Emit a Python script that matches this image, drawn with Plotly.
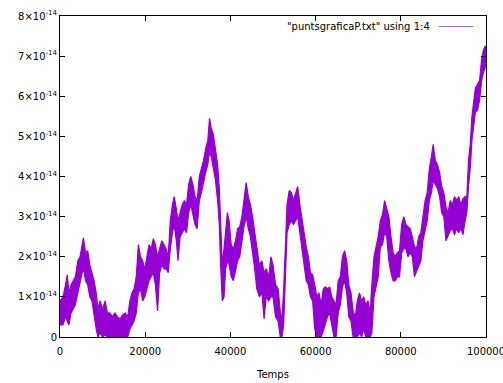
import plotly.graph_objects as go

# Envelope of the plotted series (units of 1e-14)
temps = [0, 700, 1300, 1700, 2100, 2600, 3100, 3600, 4200, 4700, 5200, 5500, 6000, 6500, 7000, 7500,
         8000, 8500, 8900, 9400, 10000, 10600, 11100, 11700, 12300, 12900, 13500, 14100, 14700, 15300,
         15900, 16400, 16900, 17400, 17900, 18400, 18900, 19400, 19900, 20400, 20900, 21400, 21900,
         22400, 22900, 23400, 23900, 24400, 24900, 25400, 25900, 26400, 26800, 27300, 27700, 28200,
         28700, 29200, 29700, 30200, 30700, 31200, 31700, 32200, 32700, 33200, 33700, 34200, 34700,
         35100, 35500, 36000, 36500, 37000, 37400, 37700, 38100, 38500, 38900, 39300, 39700, 40200,
         40700, 41200, 41700, 42200, 42700, 43200, 43700, 44200, 44700, 45200, 45700, 46200, 46800,
         47400, 47900, 48400, 49000, 49500, 50000, 50600, 51200, 51700, 52100, 52500, 52900, 53300,
         53800, 54300, 54800, 55300, 55800, 56300, 56800, 57300, 57800, 58300, 58800, 59300, 59800,
         60300, 60800, 61300, 61800, 62300, 62800, 63300, 63800, 64300, 64800, 65300, 65800, 66300,
         66800, 67300, 67800, 68300, 68800, 69300, 69800, 70300, 70800, 71300, 71800, 72300, 72800,
         73200, 73700, 74200, 74700, 75200, 75700, 76200, 76700, 77200, 77700, 78200, 78700, 79200,
         79700, 80200, 80700, 81200, 81700, 82200, 82700, 83200, 83700, 84200, 84700, 85200, 85700,
         86200, 86700, 87200, 87600, 88100, 88600, 89100, 89600, 90100, 90600, 91100, 91600, 92100,
         92600, 93100, 93600, 94100, 94600, 95100, 95500, 95900, 96300, 96700, 97100, 97500, 98000,
         98500, 99000, 99400, 99800, 100000]

p_low = [0.3, 0.3, 0.5, 0.4, 0.3, 0.6, 0.7, 0.8, 1.1, 1.3, 1.6, 1.7, 1.4, 1.3, 1.0, 0.9,
         0.5, 0.2, 0.0, 0.1, 0.0, 0.05, 0.0, 0.0, 0.0, 0.0, 0.0, 0.0, 0.0, 0.0,
         0.0, 0.2, 0.3, 0.4, 0.6, 1.1, 1.2, 0.9, 1.0, 1.2, 1.4, 1.5, 1.6,
         1.3, 0.65, 1.6, 1.8, 1.7, 1.7, 1.6, 2.2, 2.6, 2.8, 2.4, 1.9, 2.5,
         2.6, 2.7, 2.6, 3.1, 3.3, 3.1, 2.8, 2.7, 3.4, 3.6, 3.8, 4.1, 4.3,
         4.6, 4.5, 4.2, 3.9, 3.4, 2.8, 1.8, 0.9, 1.0, 1.7, 1.9, 1.8, 1.5,
         1.4, 1.6, 1.9, 2.0, 2.3, 2.75, 3.0, 2.7, 2.5, 2.1, 1.7, 1.2, 1.0,
         1.1, 0.45, 1.0, 0.9, 1.0, 1.0, 0.5, 0.4, 0.0, 0.0, 0.3, 1.5, 2.6,
         2.8, 2.9, 2.8, 2.9, 3.0, 2.6, 2.1, 1.8, 1.4, 1.3, 1.0, 0.9, 0.2,
         0.0, 0.0, 0.0, 0.15, 0.3, 0.5, 0.6, 0.3, 0.0, 0.0, 0.6, 0.8, 1.25,
         1.4, 1.1, 0.5, 0.4, 0.0, 0.0, 0.0, 0.1, 0.0, 0.2, 0.0, 0.0, 0.0,
         0.1, 1.0, 1.25, 1.5, 2.25, 2.3, 2.6, 2.5, 1.9, 1.6, 1.4, 1.4, 1.5,
         1.5, 2.1, 2.2, 2.2, 2.0, 2.1, 2.0, 1.5, 1.6, 1.75, 1.9, 2.4, 2.6,
         2.9, 3.4, 3.6, 3.9, 3.8, 3.7, 3.5, 3.1, 3.0, 2.4, 2.5, 2.65, 2.7,
         2.55, 2.7, 2.6, 2.7, 2.55, 2.9, 3.1, 3.75, 4.2, 4.9, 5.3, 5.6, 5.65,
         5.9, 6.4, 6.6, 6.7, 6.9]

p_high = [0.9, 1.0, 1.3, 1.55, 1.1, 1.3, 1.4, 1.5, 1.9, 2.0, 2.3, 2.47, 2.1, 2.15, 1.8, 1.6,
          1.4, 1.1, 0.7, 0.9, 0.7, 0.9, 0.6, 0.6, 0.5, 0.6, 0.5, 0.45, 0.55, 0.6,
          0.5, 0.9, 1.1, 1.2, 1.5, 2.3, 2.0, 1.9, 1.7, 2.0, 2.3, 2.2, 2.45,
          2.3, 2.0, 2.2, 2.4, 2.3, 2.2, 2.0, 2.9, 3.3, 3.5, 3.2, 2.9, 3.1,
          3.3, 3.4, 3.3, 3.8, 4.0, 3.8, 3.5, 3.4, 4.0, 4.2, 4.4, 4.7, 4.9,
          5.45, 5.2, 5.05, 4.7, 4.3, 3.7, 3.0, 1.8, 2.2, 2.75, 3.1, 2.9, 2.3,
          2.2, 2.4, 2.7, 2.75, 3.0, 3.5, 3.85, 3.5, 3.3, 3.0, 2.6, 2.15, 1.8,
          1.9, 1.6, 1.7, 1.5, 2.0, 1.8, 1.3, 1.2, 0.65, 0.4, 1.2, 2.5, 3.3,
          3.65, 3.6, 3.4, 3.6, 3.75, 3.3, 2.9, 2.6, 2.25, 2.0, 1.6, 1.55, 1.3,
          1.0, 1.1, 0.8, 1.2, 1.25, 1.2, 1.25, 1.0, 0.9, 0.8, 1.4, 1.5, 2.0,
          2.15, 1.9, 1.3, 1.1, 0.65, 0.5, 0.9, 1.1, 0.9, 1.0, 0.8, 0.9, 0.6,
          1.3, 2.0, 2.25, 2.5, 2.9, 3.05, 3.4, 3.2, 3.0, 2.5, 2.1, 2.0, 2.1,
          2.15, 2.8, 3.0, 2.8, 2.75, 2.7, 2.5, 2.25, 2.2, 2.5, 2.6, 3.0, 3.4,
          3.6, 4.2, 4.5, 4.8, 4.4, 4.3, 4.1, 3.75, 3.6, 3.25, 3.1, 3.4, 3.3,
          3.5, 3.4, 3.5, 3.3, 3.45, 3.5, 3.5, 4.4, 4.8, 5.5, 5.9, 6.2, 6.3,
          6.4, 6.95, 7.15, 7.25, 7.2]

scale = 1e-14
y_ticks = [0, 1, 2, 3, 4, 5, 6, 7, 8]
y_tick_text = ["0"] + [f"{v}×10<sup>-14</sup>" for v in y_ticks[1:]]
x_ticks = [0, 20000, 40000, 60000, 80000, 100000]

purple = "#9400D3"
font = dict(family="DejaVu Sans", size=10, color="#000000")

poly_x = temps + temps[::-1]
poly_y = [v * scale for v in p_high] + [v * scale for v in p_low[::-1]]

fig = go.Figure()
fig.add_trace(go.Scatter(
    x=poly_x, y=poly_y, mode="lines", fill="toself", fillcolor=purple,
    line=dict(color=purple, width=1.2), showlegend=False, hoverinfo="skip"))

fig.add_annotation(xref="paper", yref="paper", x=0.874, y=0.967, xanchor="right", yanchor="middle",
                   text='"puntsgraficaP.txt" using 1:4', showarrow=False, font=font)
fig.add_shape(type="line", xref="paper", yref="paper", x0=0.889, x1=0.97, y0=0.967, y1=0.967,
              line=dict(color="#B84FE6", width=1))

axis_common = dict(showgrid=False, zeroline=False, showline=True, linecolor="black", linewidth=1,
                   mirror="ticks", ticks="inside", ticklen=5, tickcolor="black", tickwidth=1,
                   tickfont=font, automargin=False)

fig.update_layout(
    width=503, height=383,
    margin=dict(l=60, r=17, t=16, b=46),
    paper_bgcolor="white", plot_bgcolor="white",
    font=font,
    xaxis=dict(range=[0, 100000], tickvals=x_ticks, ticktext=[str(v) for v in x_ticks],
               ticklabeloverflow="allow", ticklabelstandoff=5,
               title=dict(text="Temps", font=font, standoff=14), **axis_common),
    yaxis=dict(range=[0, 8 * scale], tickvals=[v * scale for v in y_ticks], ticktext=y_tick_text,
               **axis_common),
    showlegend=False,
)

fig.write_html("out.html")
